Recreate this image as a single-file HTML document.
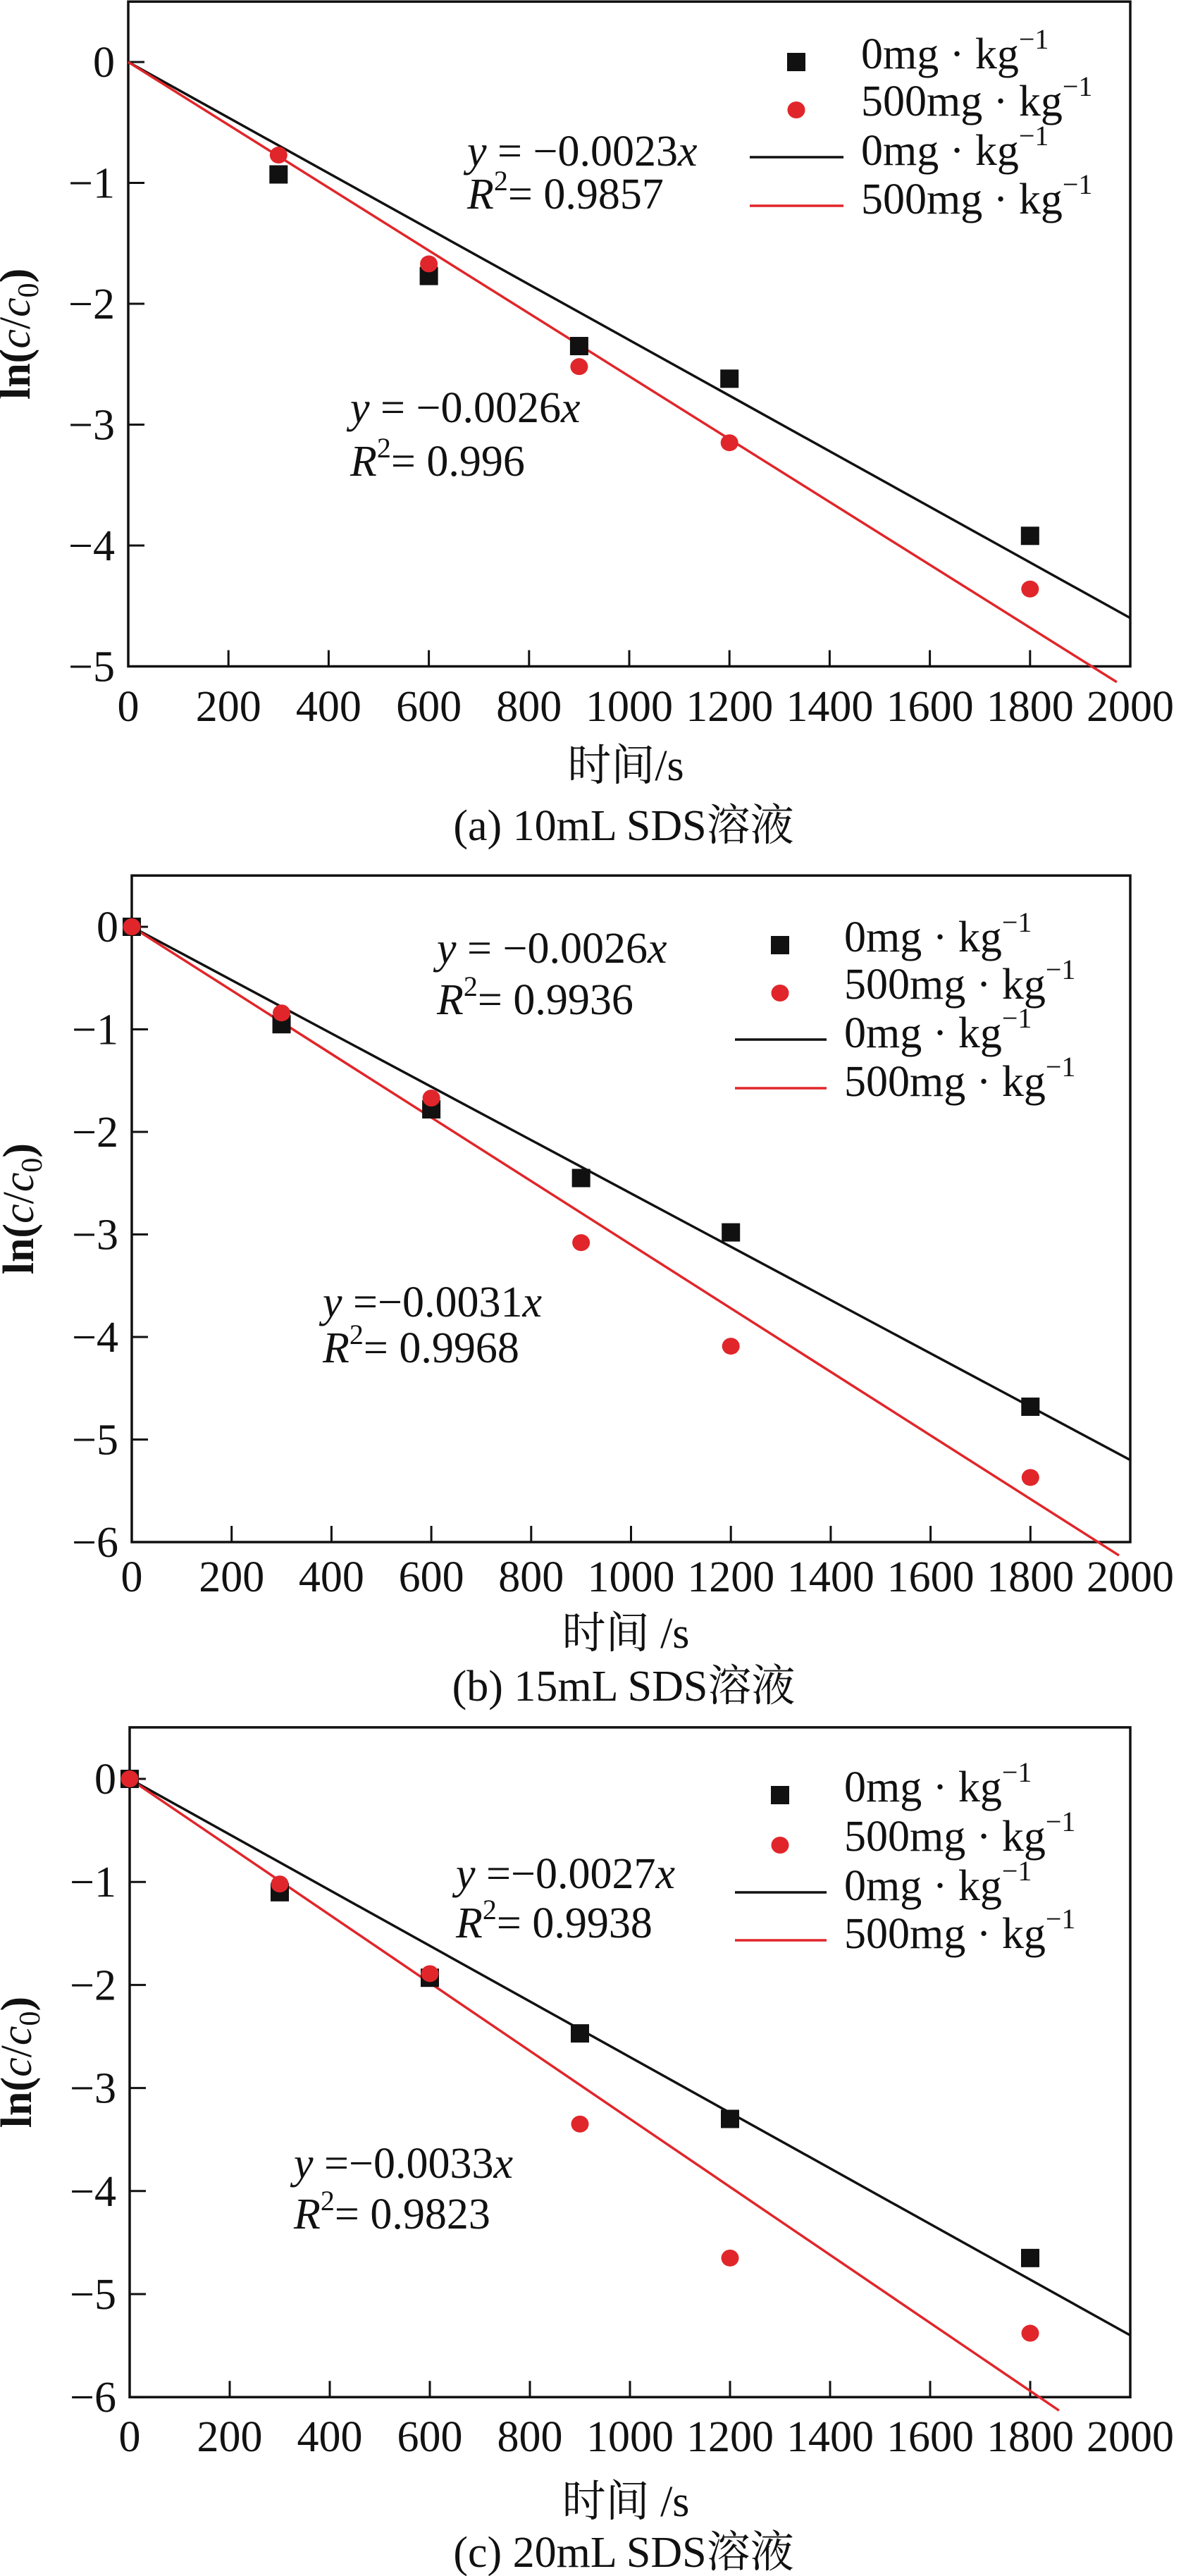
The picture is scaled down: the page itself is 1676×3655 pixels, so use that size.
<!DOCTYPE html>
<html><head><meta charset="utf-8"><style>
html,body{margin:0;padding:0;background:#fff}
svg{display:block}
text{font-family:"Liberation Serif","Noto Serif CJK SC",serif;fill:#111}
</style></head><body>
<svg id="fig" width="1676" height="3655" viewBox="0 0 1676 3655" xmlns="http://www.w3.org/2000/svg"></svg>
<script>
// ---- data ----
const xCats = [0, 300, 600, 900, 1200, 1800];
const xTicks = [0, 200, 400, 600, 800, 1000, 1200, 1400, 1600, 1800, 2000];
const a_black = [null, -0.93, -1.77, -2.35, -2.62, -3.92];
const a_red = [null, -0.77, -1.67, -2.52, -3.15, -4.36];
const a_slopes = [-0.0023, -0.0026];
const a_yTicks = [0, -1, -2, -3, -4, -5];
const b_black = [0, -0.95, -1.78, -2.45, -2.98, -4.68];
const b_red = [0, -0.84, -1.67, -3.08, -4.09, -5.37];
const b_slopes = [-0.0026, -0.0031];
const b_yTicks = [0, -1, -2, -3, -4, -5, -6];
const c_black = [0, -1.10, -1.93, -2.47, -3.30, -4.65];
const c_red = [0, -1.02, -1.89, -3.35, -4.65, -5.38];
const c_slopes = [-0.0027, -0.0033];
const c_yTicks = [0, -1, -2, -3, -4, -5, -6];

const NS = "http://www.w3.org/2000/svg";
const svg = document.getElementById('fig');
const FS = 62;
function mk(tag, attrs, parent){const e=document.createElementNS(NS,tag);for(const k in attrs)e.setAttribute(k,attrs[k]);(parent||svg).appendChild(e);return e;}

function panel(p){
  const g = mk('g',{});
  
  
  const X = v => p.left + (v/2000)*(p.right-p.left);
  const Y = v => p.y0 + (-v)*p.unit;
  const top = Y(0.5), bottom = Y(p.ymin);
  p.yTicks.forEach(t=>{
    const tk = mk('line',{x1:p.left,x2:p.left+23,y1:Y(t),y2:Y(t),stroke:'#111','stroke-width':3},g);
    
    
    const lb = mk('text',{x:p.left-19,y:Y(t)+21,'font-size':FS,'text-anchor':'end'},g);
    lb.textContent = t===0?'0':'\u2212'+Math.abs(t);
    
    
  });
  xTicks.forEach(t=>{
    if(t>0 && t<2000){
      const tk = mk('line',{x1:X(t),x2:X(t),y1:bottom,y2:bottom-23,stroke:'#111','stroke-width':3},g);
      
      
    }
    const lb = mk('text',{x:X(t),y:p.tickY+21,'font-size':FS,'text-anchor':'middle'},g);
    lb.textContent = String(t);
    
    
  });
  const fr = mk('rect',{x:p.left,y:top,width:p.right-p.left,height:bottom-top,fill:'none',stroke:'#111','stroke-width':3.5},g);
  
  
  const colors=['#111','#e0262a'];
  p.slopes.forEach((s,i)=>{
    const xe = Math.min(2000, (p.ymin-0.13)/s);
    const ln = mk('line',{x1:X(0),y1:Y(0),x2:X(xe),y2:Y(s*xe),stroke:colors[i],'stroke-width':3.5},g);
    
    
  });
  xCats.forEach((x,i)=>{
    const vb=p.black[i], vr=p.red[i];
    if(vb!==null){
      const r = mk('rect',{x:X(x)-13,y:Y(vb)-13,width:26,height:26,fill:'#111'},g);
      
      
    }
    if(vr!==null){
      const c = mk('ellipse',{cx:X(x),cy:Y(vr),rx:12.5,ry:12,fill:'#e0262a'},g);
      
      
    }
  });
  const yl = mk('text',{x:0,y:0,'font-size':FS,'text-anchor':'middle',transform:`translate(${p.left-140},${(top+bottom)/2}) rotate(-90)`},g);
  yl.innerHTML = '<tspan font-weight="bold">ln(</tspan><tspan font-style="italic">c</tspan>/<tspan font-style="italic">c</tspan><tspan font-size="42" dy="12">0</tspan><tspan font-weight="bold" dy="-12">)</tspan>';
  
  
  const xl = mk('text',{x:888,y:p.xlabY+21,'font-size':FS,'text-anchor':'middle'},g);
  xl.textContent = p.xlab;
  
  
  const cap = mk('text',{x:885,y:p.capY+21,'font-size':FS,'text-anchor':'middle'},g);
  cap.textContent = p.caption;
  
  
  const L=p.leg;
  const ms = mk('rect',{x:L.mx-13,y:L.rows[0]+11-13,width:26,height:26,fill:'#111'},g);
  
  
  const mc = mk('ellipse',{cx:L.mx,cy:L.rows[1]+12,rx:12.5,ry:12,fill:'#e0262a'},g);
  
  
  const l1 = mk('line',{x1:L.lx1,x2:L.lx2,y1:L.rows[2]+9,y2:L.rows[2]+9,stroke:'#111','stroke-width':3.5},g);
  
  
  const l2 = mk('line',{x1:L.lx1,x2:L.lx2,y1:L.rows[3]+9,y2:L.rows[3]+9,stroke:'#e0262a','stroke-width':3.5},g);
  
  
  ['0mg','500mg','0mg','500mg'].forEach((s,i)=>{
    const t = mk('text',{x:L.tx,y:L.rows[i]+20,'font-size':FS},g);
    t.innerHTML = s+' \u00b7 kg<tspan font-size="40" dy="-28">\u22121</tspan>';
    
    
  });
  p.ann.forEach(a=>{
    const t1 = mk('text',{x:a.x,y:a.y1+21,'font-size':FS},g);
    t1.innerHTML = '<tspan font-style="italic">y</tspan>'+a.eq+'<tspan font-style="italic">x</tspan>';
    
    
    const t2 = mk('text',{x:a.x,y:a.y2+21,'font-size':FS},g);
    t2.innerHTML = '<tspan font-style="italic">R</tspan><tspan font-size="40" dy="-26">2</tspan><tspan dy="26">= '+a.r2+'</tspan>';
    
    
  });
}

panel({id:'a',left:182,right:1604,y0:88,unit:171.5,ymin:-5,yTicks:a_yTicks,black:a_black,red:a_red,slopes:a_slopes,
  tickY:1002,xlabY:1086,capY:1171,xlab:'时间/s',caption:'(a) 10mL SDS溶液',
  leg:{mx:1130,tx:1222,lx1:1064,lx2:1197,rows:[77,144,214,283]},
  ann:[{x:663,y1:214,y2:275,eq:' = \u22120.0023',r2:'0.9857'},{x:497,y1:578,y2:654,eq:' = \u22120.0026',r2:'0.996'}]});
panel({id:'b',left:187,right:1604,y0:1315,unit:145.5,ymin:-6,yTicks:b_yTicks,black:b_black,red:b_red,slopes:b_slopes,
  tickY:2237,xlabY:2317,capY:2392,xlab:'时间 /s',caption:'(b) 15mL SDS溶液',
  leg:{mx:1107,tx:1198,lx1:1043,lx2:1173,rows:[1330,1397,1466,1535]},
  ann:[{x:620,y1:1345,y2:1418,eq:' = \u22120.0026',r2:'0.9936'},{x:458,y1:1847,y2:1912,eq:' =\u22120.0031',r2:'0.9968'}]});
panel({id:'c',left:184,right:1604,y0:2524,unit:146.2,ymin:-6,yTicks:c_yTicks,black:c_black,red:c_red,slopes:c_slopes,
  tickY:3457,xlabY:3549,capY:3621,xlab:'时间 /s',caption:'(c) 20mL SDS溶液',
  leg:{mx:1107,tx:1198,lx1:1043,lx2:1173,rows:[2536,2606,2676,2744]},
  ann:[{x:647,y1:2658,y2:2728,eq:' =\u22120.0027',r2:'0.9938'},{x:417,y1:3069,y2:3141,eq:' =\u22120.0033',r2:'0.9823'}]});
</script>
</body></html>
